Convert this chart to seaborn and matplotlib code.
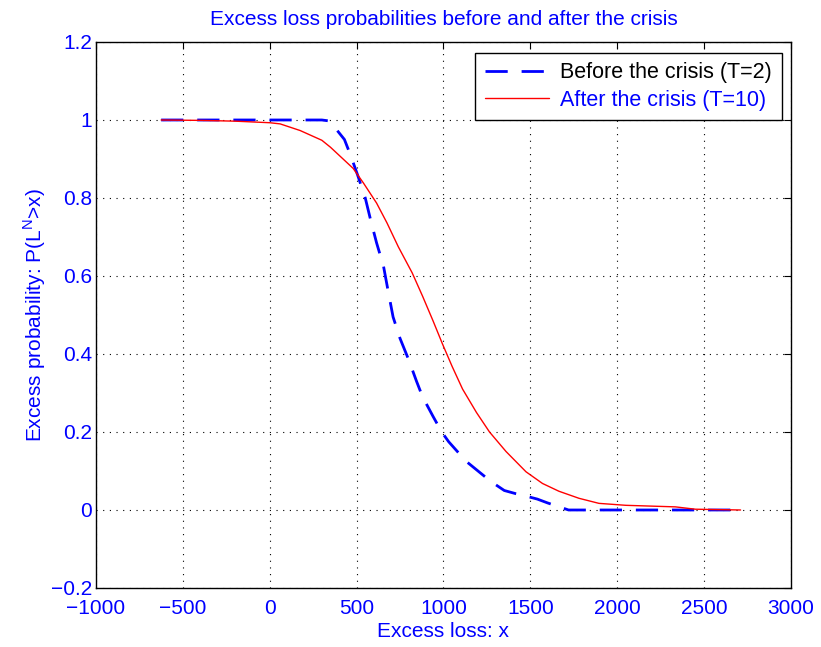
import matplotlib
matplotlib.use("Agg")
import matplotlib.pyplot as plt
import seaborn as sns
import pandas as pd

# Before the crisis (T=2)
x_before = [-625, -400, -200, 0, 200, 300, 335, 385, 430, 465, 505, 550, 580,
            615, 655, 680, 710, 750, 800, 845, 880, 910, 940, 990, 1030, 1080,
            1130, 1185, 1240, 1290, 1350, 1415, 1480, 1540, 1600, 1680, 1720,
            2000, 2400, 2710]
y_before = [1.0, 1.0, 1.0, 1.0, 1.0, 1.0, 0.998, 0.975, 0.95, 0.91, 0.86,
            0.80, 0.745, 0.685, 0.625, 0.565, 0.495, 0.44, 0.385, 0.33, 0.29,
            0.265, 0.24, 0.20, 0.175, 0.15, 0.125, 0.105, 0.085, 0.068, 0.05,
            0.042, 0.035, 0.028, 0.018, 0.006, 0.0, 0.0, 0.0, 0.0]

# After the crisis (T=10)
x_after = [-625, -400, -200, 0, 60, 175, 300, 350, 480, 540, 615, 675, 740,
           820, 880, 940, 995, 1050, 1110, 1190, 1265, 1360, 1475, 1570, 1665,
           1780, 1895, 2050, 2335, 2450, 2710]
y_after = [1.0, 0.999, 0.997, 0.993, 0.99, 0.973, 0.948, 0.93, 0.876, 0.838,
           0.787, 0.736, 0.675, 0.608, 0.548, 0.485, 0.425, 0.368, 0.31, 0.25,
           0.20, 0.15, 0.098, 0.068, 0.048, 0.03, 0.017, 0.012, 0.008, 0.002, 0.0]

x_ticks = [-1000, -500, 0, 500, 1000, 1500, 2000, 2500, 3000]
y_ticks = [-0.2, 0, 0.2, 0.4, 0.6, 0.8, 1, 1.2]

sns.set_style("white")
plt.rcParams['font.family'] = ['Liberation Sans', 'DejaVu Sans']

fig = plt.figure(figsize=(8.21, 6.47), dpi=100)
ax = fig.add_axes([0.1169, 0.0912, 0.8465, 0.8439])

df_b = pd.DataFrame({"x": x_before, "y": y_before})
df_a = pd.DataFrame({"x": x_after, "y": y_after})

sns.lineplot(data=df_b, x="x", y="y", ax=ax, color="#0000ff", linewidth=2.0,
             linestyle=(0, (8, 5)), label="Before the crisis (T=2)")
sns.lineplot(data=df_a, x="x", y="y", ax=ax, color="#ff0000", linewidth=1.0,
             label="After the crisis (T=10)")

ax.set_xlim(-1000, 3000)
ax.set_ylim(-0.2, 1.2)
ax.set_xticks(x_ticks)
ax.set_yticks(y_ticks)
ax.set_yticklabels(["\u22120.2", "0", "0.2", "0.4", "0.6", "0.8", "1", "1.2"])
ax.set_xticklabels([str(t).replace("-", "\u2212") for t in x_ticks])

ax.grid(True, color="black", linestyle=(0, (1, 5)), linewidth=0.8)
ax.tick_params(direction="in", length=5, top=True, right=True,
               labelsize=15, colors="black")
ax.tick_params(axis="both", labelcolor="#0000ff")
ax.tick_params(axis="x", pad=8)
ax.tick_params(axis="y", pad=3)
for s in ax.spines.values():
    s.set_color("black")
    s.set_linewidth(1.0)

ax.set_title("Excess loss probabilities before and after the crisis",
             color="#0000ff", fontsize=15, pad=12)
ax.set_xlabel("Excess loss: x", color="#0000ff", fontsize=15, labelpad=3)
ax.set_ylabel(r"Excess probability: P(L$^{\mathregular{N}}$>x)", color="#0000ff",
              fontsize=15, labelpad=2)

leg = ax.legend(loc="upper right", bbox_to_anchor=(0.9865, 0.9805),
                borderaxespad=0, fontsize=15.5, frameon=True, fancybox=False,
                framealpha=1, edgecolor="black",
                handlelength=3.0, handletextpad=0.5, borderpad=0.45,
                labelspacing=0.3)
leg.get_frame().set_linewidth(1.0)
leg.get_texts()[0].set_color("black")
leg.get_texts()[1].set_color("#0000ff")

fig.savefig("out.png", dpi=100)
